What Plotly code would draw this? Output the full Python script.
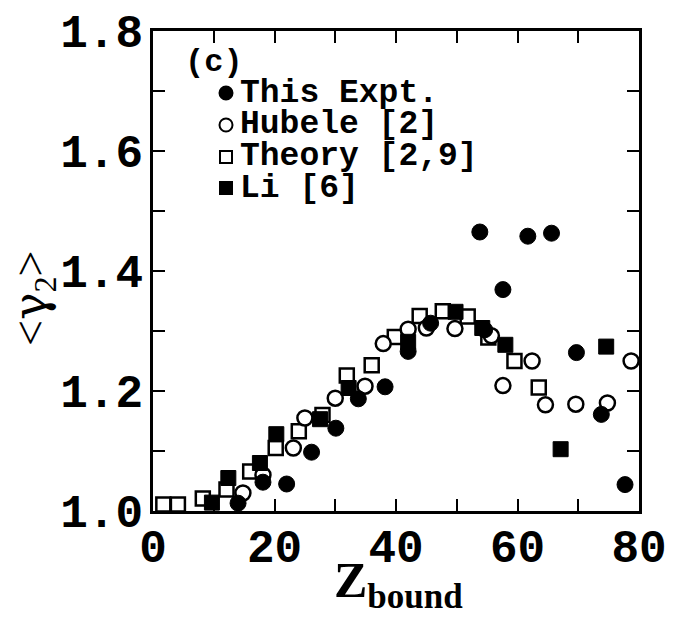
import plotly.graph_objects as go

# This Expt. (filled circles)
expt_z = [14.0, 18.1, 22.0, 26.1, 30.1, 33.8, 38.2, 42.0, 45.7, 53.8, 54.6, 57.6, 61.7, 65.6, 69.7, 73.8, 77.7]
expt_y = [1.013, 1.048, 1.045, 1.098, 1.138, 1.187, 1.207, 1.266, 1.313, 1.465, 1.302, 1.369, 1.458, 1.463, 1.264, 1.161, 1.044]

# Hubele [2] (open circles)
hub_z = [14.8, 18.1, 23.1, 25.0, 30.0, 34.9, 37.9, 42.0, 45.0, 49.7, 55.7, 57.6, 62.4, 64.6, 69.6, 74.8, 78.7]
hub_y = [1.030, 1.060, 1.105, 1.155, 1.188, 1.208, 1.279, 1.303, 1.305, 1.304, 1.292, 1.209, 1.250, 1.177, 1.178, 1.180, 1.250]

# Theory [2,9] (open squares)
th_z = [1.7, 4.1, 8.2, 12.1, 16.0, 20.2, 24.0, 27.9, 31.9, 36.0, 39.8, 43.9, 47.7, 51.8, 55.2, 59.5, 63.5]
th_y = [1.011, 1.011, 1.021, 1.036, 1.066, 1.105, 1.133, 1.160, 1.226, 1.243, 1.290, 1.325, 1.333, 1.324, 1.289, 1.250, 1.206]

# Li [6] (filled squares)
li_z = [9.7, 12.4, 17.6, 20.3, 27.5, 32.2, 42.0, 49.8, 54.2, 58.0, 67.1, 74.6]
li_y = [1.014, 1.055, 1.080, 1.128, 1.153, 1.205, 1.282, 1.332, 1.305, 1.277, 1.103, 1.274]

x_ticks = [0, 10, 20, 30, 40, 50, 60, 70, 80]
x_labels = ["0", "", "20", "", "40", "", "60", "", "80"]
y_ticks = [1.0, 1.1, 1.2, 1.3, 1.4, 1.5, 1.6, 1.7, 1.8]
y_labels = ["1.0", "", "1.2", "", "1.4", "", "1.6", "", "1.8"]

legend_names = ["This Expt.", "Hubele [2]", "Theory [2,9]", "Li [6]"]
legend_symbols = ["circle-filled", "circle-open", "square-open", "square-filled"]

MONO = "Liberation Mono"
SERIF = "Liberation Serif"

# page body has an 8px margin; compensate so the plot area lands where the reference has it
W, H = 665, 620
ML, MR, MT, MB = 145, 34, 23, 117
PX0 = 8 + ML            # plot-area left in window pixels
PY0 = 8 + MT            # plot-area top in window pixels
PW = W - ML - MR
PH = H - MT - MB


def px_x(p):
    return (p - PX0) / PW


def px_y(p):
    return 1 - (p - PY0) / PH


fig = go.Figure()
fig.add_trace(go.Scatter(x=th_z, y=th_y, mode="markers", name="Theory [2,9]",
                         marker=dict(symbol="square", size=14, color="white",
                                     line=dict(color="black", width=2.5))))
fig.add_trace(go.Scatter(x=hub_z, y=hub_y, mode="markers", name="Hubele [2]",
                         marker=dict(symbol="circle", size=15, color="white",
                                     line=dict(color="black", width=2.5))))
fig.add_trace(go.Scatter(x=li_z, y=li_y, mode="markers", name="Li [6]",
                         marker=dict(symbol="square", size=15, color="black",
                                     line=dict(color="black", width=1))))
fig.add_trace(go.Scatter(x=expt_z, y=expt_y, mode="markers", name="This Expt.",
                         marker=dict(symbol="circle", size=16, color="black",
                                     line=dict(color="black", width=1))))

axis_common = dict(showline=True, linecolor="black", linewidth=2.5, mirror="ticks",
                   ticks="inside", ticklen=12, tickwidth=2, tickcolor="black",
                   showgrid=False, zeroline=False, automargin=False)

fig.update_xaxes(range=[0, 80], tickvals=x_ticks, ticktext=x_labels,
                 tickfont=dict(family=MONO, size=46, color="black", weight="bold"),
                 ticklabelstandoff=-7,
                 **axis_common)
fig.update_yaxes(range=[1.0, 1.8], tickvals=y_ticks, ticktext=y_labels,
                 tickfont=dict(family=MONO, size=46, color="black", weight="bold"),
                 ticklabelstandoff=-2,
                 **axis_common)

# axis titles
fig.add_annotation(text="Z<sub>bound</sub>", xref="paper", yref="paper",
                   x=px_x(398), y=px_y(584), xanchor="center", yanchor="middle",
                   showarrow=False,
                   font=dict(family=SERIF, size=50, color="black", weight="bold"))
fig.add_annotation(text="&lt;<span style='font-family:DejaVu Serif'>γ</span><sub>2</sub>&gt;",
                   xref="paper", yref="paper", textangle=-90,
                   x=px_x(33), y=px_y(298), xanchor="center", yanchor="middle",
                   showarrow=False,
                   font=dict(family=SERIF, size=46, color="black"))

# panel label
fig.add_annotation(text="(c)", xref="paper", yref="paper", x=px_x(183), y=px_y(62),
                   xanchor="left", yanchor="middle", showarrow=False,
                   font=dict(family=MONO, size=32, color="black", weight="bold"))

# legend (text + glyphs)
leg_y = [93, 125, 157, 188]
leg_mx = 226
for name, sym, yy in zip(legend_names, legend_symbols, leg_y):
    fig.add_annotation(text=name, xref="paper", yref="paper", x=px_x(238), y=px_y(yy),
                       xanchor="left", yanchor="middle", showarrow=False,
                       height=31, valign="middle",
                       font=dict(family=MONO, size=33, color="black", weight="bold"))
    filled = sym.endswith("filled")
    kind = "circle" if sym.startswith("circle") else "rect"
    half = 6.5 if kind == "circle" else 6
    fig.add_shape(type=kind, xref="paper", yref="paper",
                  xsizemode="pixel", ysizemode="pixel",
                  xanchor=px_x(leg_mx), yanchor=px_y(yy),
                  x0=-half, x1=half, y0=-half, y1=half,
                  fillcolor="black" if filled else "white",
                  line=dict(color="black", width=2))

fig.update_layout(
    width=W, height=H,
    margin=dict(l=ML, r=MR, t=MT, b=MB, autoexpand=False),
    paper_bgcolor="white", plot_bgcolor="white",
    showlegend=False,
)

fig.write_html("out.html")
